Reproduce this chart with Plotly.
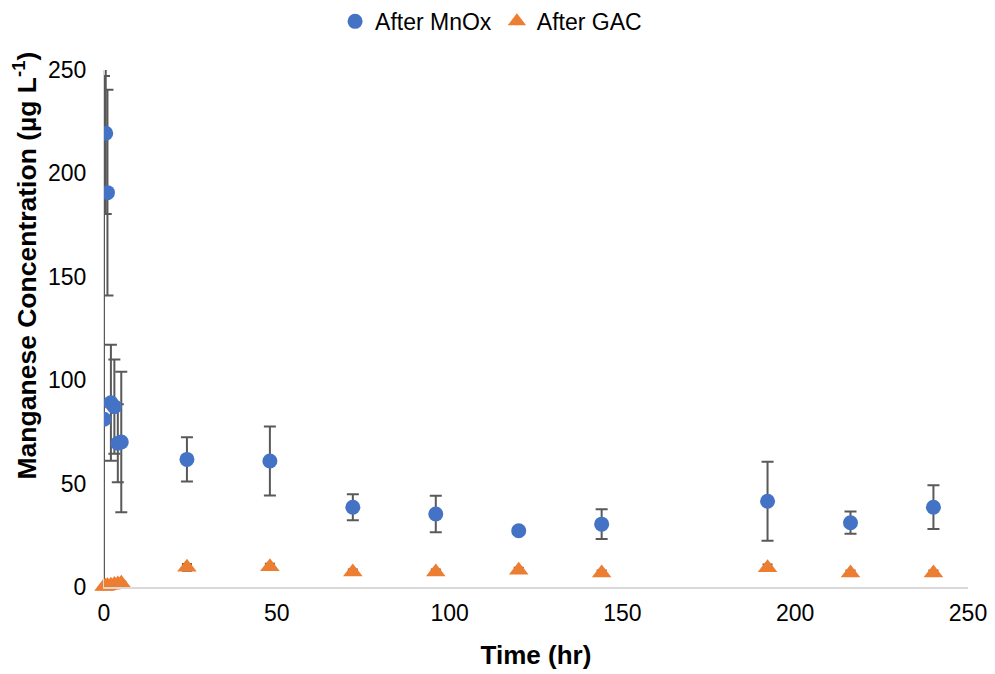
import plotly.graph_objects as go

# ---- data ----
time_hr = [0, 0.5, 1, 2, 3, 4, 5, 24, 48, 72, 96, 120, 144, 192, 216, 240]
mnox = [81.1, 219.4, 190.7, 89.1, 87.2, 69.5, 70.1, 61.7, 60.9, 38.6, 35.3, 27.2, 30.4, 41.5, 31.1, 38.6]
mnox_err = [166, 39, 49.7, 28.1, 22.8, 18.9, 34.0, 10.7, 16.7, 6.3, 8.8, 1.5, 7.2, 19.1, 5.4, 10.6]
gac = [0.2, 0.4, 0.6, 0.9, 1.2, 1.5, 1.8, 9.5, 9.8, 7.3, 7.3, 8.1, 6.8, 9.3, 6.8, 6.8]
gac_err = [0.5, 0.5, 0.5, 0.6, 0.6, 0.7, 0.7, 1.6, 1.5, 1.2, 1.2, 1.2, 1.2, 1.6, 1.2, 1.2]

x_ticks = [0, 50, 100, 150, 200, 250]
y_ticks = [0, 50, 100, 150, 200, 250]

FONT = "Liberation Sans, Arial, sans-serif"
ERR_COLOR = "#595959"

fig = go.Figure()
fig.add_trace(go.Scatter(
    x=time_hr, y=mnox, mode="markers", name="After MnOx",
    marker=dict(symbol="circle", size=15, color="#4472C4"),
    error_y=dict(type="data", array=mnox_err, color=ERR_COLOR, thickness=2, width=6),
))
fig.add_trace(go.Scatter(
    x=time_hr, y=gac, mode="markers", name="After GAC",
    marker=dict(symbol="triangle-up", size=17, color="#ED7D31"),
    error_y=dict(type="data", array=gac_err, color=ERR_COLOR, thickness=2, width=5),
    cliponaxis=False,
))

# page body has an 8px margin, so the figure is sized/offset to fit the 995x674 window
fig.update_layout(
    width=987, height=666,
    margin=dict(l=96, r=27, t=62, b=87, autoexpand=False),
    plot_bgcolor="white", paper_bgcolor="white",
    font=dict(family=FONT, size=23, color="#000000"),
    showlegend=True,
    legend=dict(orientation="h", x=0.448, xanchor="center", y=1.094, yanchor="middle",
                font=dict(size=23, color="#000000"), itemwidth=30, tracegroupgap=0),
    xaxis=dict(range=[0, 250], tickvals=x_ticks, showgrid=False, zeroline=False,
               showline=True, linecolor="#d9d9d9", linewidth=2,
               ticks="outside", ticklen=4, tickcolor="rgba(0,0,0,0)",
               tickfont=dict(size=23, color="#000000"),
               title=dict(text="<b>Time (hr)</b>", font=dict(size=26, color="#000000"), standoff=21)),
    yaxis=dict(range=[0, 250], tickvals=y_ticks, showgrid=False, zeroline=False,
               showline=True, linecolor="#d9d9d9", linewidth=1,
               ticks="outside", ticklen=12, tickcolor="rgba(0,0,0,0)",
               tickfont=dict(size=23, color="#000000")),
    annotations=[dict(
        text="<b>Manganese Concentration (µg L<sup>-1</sup>)</b>",
        xref="paper", yref="paper", x=-0.092, y=0.621, xanchor="center", yanchor="middle",
        textangle=-90, showarrow=False, font=dict(size=26.5, color="#000000"))],
)

fig.write_html("out.html")
